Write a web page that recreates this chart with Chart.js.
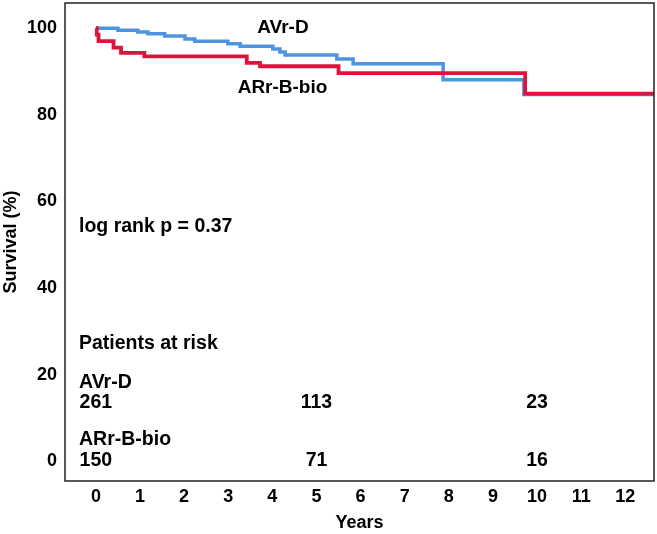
<!DOCTYPE html>
<html>
<head>
<meta charset="utf-8">
<script src="https://cdn.jsdelivr.net/npm/chart.js@4.4.1/dist/chart.umd.min.js"></script>
<style>
  html, body { margin: 0; padding: 0; background: #fff; }
  #wrap { width: 657px; height: 534px; }
</style>
</head>
<body>
<div id="wrap"><canvas id="kmChart" width="657" height="534"></canvas></div>
<script>
// Kaplan-Meier steps (time in years, survival in %)
const avrTimes = [0, 0.5, 0.95, 1.18, 1.56, 2.02, 2.24, 2.99, 3.27, 4.01, 4.17, 4.29, 5.46, 5.83, 7.87, 9.7, 12.65];
const avrSurv  = [100, 99.5, 99.1, 98.7, 98.2, 97.5, 97.0, 96.4, 95.8, 95.2, 94.5, 93.8, 92.9, 91.8, 88.1, 84.7, 84.7];
const arrTimes = [0, 0.02, 0.06, 0.4, 0.57, 1.1, 3.42, 3.72, 5.5, 9.73, 12.65];
const arrSurv  = [100, 98.5, 97.0, 95.5, 94.3, 93.5, 92.0, 91.2, 89.6, 84.9, 84.9];

// axis ticks
const yearTicks = [0, 1, 2, 3, 4, 5, 6, 7, 8, 9, 10, 11, 12];
const survTicks = [0, 20, 40, 60, 80, 100];

// patients at risk table
const groupNames = ['AVr-D', 'ARr-B-bio'];
const riskYears = [0, 5, 10];
const riskAvr = [261, 113, 23];
const riskArr = [150, 71, 16];
const logRankText = 'log rank p = 0.37';

const FONT = "'Liberation Sans', Arial, sans-serif";

function toPoints(xs, ys) {
  return xs.map((t, i) => ({ x: t, y: ys[i] }));
}

// plot frame + text annotations
const annotate = {
  id: 'annotate',
  afterDatasetsDraw(chart) {
    const { ctx, chartArea, scales } = chart;
    const x = scales.x, y = scales.y;
    ctx.save();
    ctx.strokeStyle = '#222';
    ctx.lineWidth = 1.5;
    ctx.strokeRect(chartArea.left, chartArea.top, chartArea.right - chartArea.left, chartArea.bottom - chartArea.top);

    ctx.fillStyle = '#000';
    ctx.font = 'bold 19px ' + FONT;
    ctx.textAlign = 'center';
    ctx.textBaseline = 'middle';
    // curve labels
    ctx.fillText(groupNames[0], x.getPixelForValue(4.24), y.getPixelForValue(100.1));
    ctx.fillText(groupNames[1], x.getPixelForValue(4.23), y.getPixelForValue(86.2));

    ctx.font = 'bold 19.5px ' + FONT;
    ctx.textAlign = 'left';
    const lx = chartArea.left + 14;
    ctx.fillText(logRankText, lx, y.getPixelForValue(54.3));
    ctx.fillText('Patients at risk', lx, y.getPixelForValue(27.3));
    ctx.fillText(groupNames[0], lx, y.getPixelForValue(18.2));
    ctx.fillText(groupNames[1], lx, y.getPixelForValue(5.0));

    ctx.textAlign = 'center';
    riskYears.forEach((yr, i) => {
      ctx.fillText(String(riskAvr[i]), x.getPixelForValue(yr), y.getPixelForValue(13.7));
      ctx.fillText(String(riskArr[i]), x.getPixelForValue(yr), y.getPixelForValue(0.2));
    });
    ctx.restore();
  }
};

const ctx = document.getElementById('kmChart').getContext('2d');
const kmChart = new Chart(ctx, {
  type: 'line',
  data: {
    datasets: [
      {
        label: groupNames[1],
        data: toPoints(arrTimes, arrSurv),
        borderColor: '#dc143c',
        borderWidth: 3.8,
        stepped: true,
        pointRadius: 0,
        fill: false
      },
      {
        label: groupNames[0],
        data: toPoints(avrTimes, avrSurv),
        borderColor: '#4f94e0',
        borderWidth: 3.5,
        stepped: true,
        pointRadius: 0,
        fill: false
      }
    ]
  },
  options: {
    responsive: false,
    animation: false,
    layout: { padding: { top: 3, right: 3, left: 0, bottom: 0 } },
    plugins: {
      legend: { display: false },
      tooltip: { enabled: false }
    },
    scales: {
      x: {
        type: 'linear',
        min: -0.7,
        max: 12.65,
        afterBuildTicks: (axis) => { axis.ticks = yearTicks.map(v => ({ value: v })); },
        afterFit: (scale) => { scale.height = 53; scale.paddingLeft = 0; scale.paddingRight = 0; },
        grid: { display: false, drawTicks: false },
        border: { display: false },
        ticks: {
          color: '#000',
          padding: 5,
          maxRotation: 0,
          autoSkip: false,
          font: { family: FONT, size: 18, weight: 'bold' }
        },
        title: {
          display: true,
          text: 'Years',
          color: '#000',
          padding: { top: 0, bottom: 0 },
          font: { family: FONT, size: 18, weight: 'bold' }
        }
      },
      y: {
        min: -4.5,
        max: 105.8,
        afterBuildTicks: (axis) => { axis.ticks = survTicks.map(v => ({ value: v })); },
        afterFit: (scale) => { scale.width = 65; scale.paddingTop = 0; scale.paddingBottom = 0; },
        grid: { display: false, drawTicks: false },
        border: { display: false },
        ticks: {
          color: '#000',
          padding: 8,
          font: { family: FONT, size: 18, weight: 'bold' }
        },
        title: {
          display: true,
          text: 'Survival (%)',
          color: '#000',
          padding: { top: 0, bottom: 0 },
          font: { family: FONT, size: 18, weight: 'bold' }
        }
      }
    }
  },
  plugins: [annotate]
});
</script>
</body>
</html>
